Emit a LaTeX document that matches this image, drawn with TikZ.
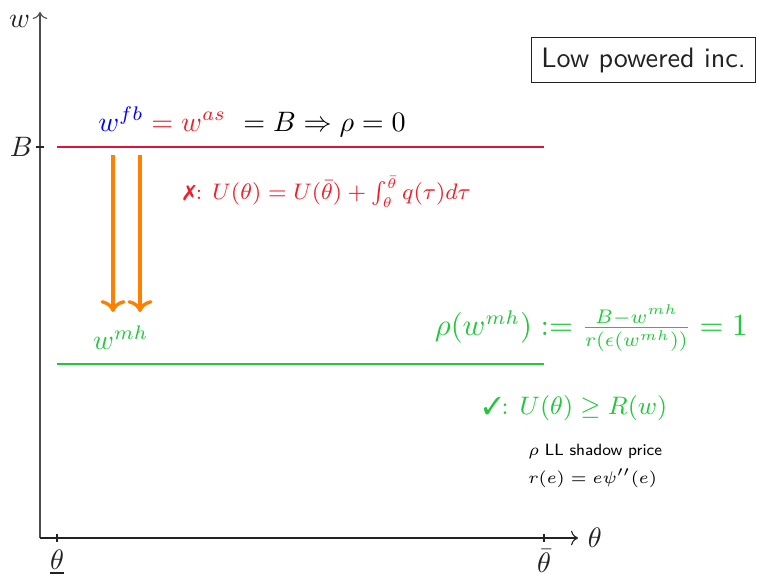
\documentclass[tikz,border=0pt]{standalone}
\usepackage{tikz}
\usetikzlibrary{arrows.meta,positioning}
\usepackage{amssymb,pifont}
\definecolor{crimson}{HTML}{DC143C}
\definecolor{ired}{HTML}{F0202A}
\definecolor{lgreen}{HTML}{22C83C}
\definecolor{orng}{HTML}{FF8000}
\definecolor{ink}{HTML}{222222}

\begin{document}
\begin{tikzpicture}[>=To]
\useasboundingbox (-0.5,-0.4625) rectangle (8.9625,6.725);
\tikzset{level/.style={line width=0.8pt},
  push/.style={->,orng,line width=1.2pt},
  tick/.style={ink,thin}}
% axes
\coordinate (O) at (0,0);
\coordinate (wtop) at (0,6.575);
\coordinate (thend) at (6.725,0);
\draw[->,ink!80] (O) -- (wtop) node[left,ink,yshift=-1.2mm] (wlab) {$w$};
\draw[->,ink] (O) -- (thend) node[right] (thlab) {$\theta$};
\foreach \x/\name/\lab in {0.2125/thlo/\underline{\theta},6.3/thhi/\bar{\theta}}{
  \draw[tick] (\x,0.05) -- (\x,-0.05) node[below,inner sep=2.5pt] (\name) {$\lab$};
}
\draw[tick] (0.05,4.8875) -- (-0.05,4.8875) node[left,inner sep=1pt] (Blab) {$B$};
% wage levels
\coordinate (fbL) at (0.2125,4.8875);
\coordinate (fbR) at (6.3,4.8875);
\coordinate (mhL) at (0.2125,2.175);
\coordinate (mhR) at (6.3,2.175);
\draw[level,crimson] (fbL) -- (fbR);
\draw[level,lgreen] (mhL) -- (mhR);
% shift down
\foreach \x/\n in {0.9125/a,1.25/b}{
  \coordinate (top\n) at (\x,4.7875);
  \coordinate (bot\n) at (\x,2.825);
  \draw[push] (top\n) -- (bot\n);
}
% labels
\node (fb) at (2.65,5.2) {$\textcolor{blue}{w^{fb}} \mathrel{\textcolor{ired}{=}} \textcolor{ired}{w^{as}}\ = B \Rightarrow \rho = 0$};
\node[ired,font=\fontsize{7.7}{9}\selectfont] (ic) at (3.59,4.325) {\ding{55}: $U(\theta) = U(\bar{\theta}) + \int_{\theta}^{\bar{\theta}} q(\tau)d\tau$};
\node[lgreen] (mh) at (1.01,2.5) {$w^{mh}$};
\node[lgreen,font=\fontsize{10.6}{12.5}\selectfont] (rho) at (6.89,2.625) {$\rho(w^{mh}) := \frac{B-w^{mh}}{r(\epsilon(w^{mh}))} = 1$};
\node[lgreen,font=\fontsize{8.7}{10}\selectfont] (ll) at (6.69,1.625) {\ding{51}: $U(\theta) \geq R(w)$};
\node[anchor=west,font=\fontsize{5.8}{7}\selectfont\sffamily] (shadow) at (5.98,1.0875) {$\rho$ LL shadow price};
\node[anchor=west,font=\fontsize{6.3}{7.5}\selectfont] (rdef) at (5.98,0.75) {$r(e) = e\psi''(e)$};
\node[draw,ink,font=\sffamily,anchor=east,inner sep=3.5pt] (regime) at (8.95,5.975) {Low powered inc.};
\end{tikzpicture}
\end{document}
